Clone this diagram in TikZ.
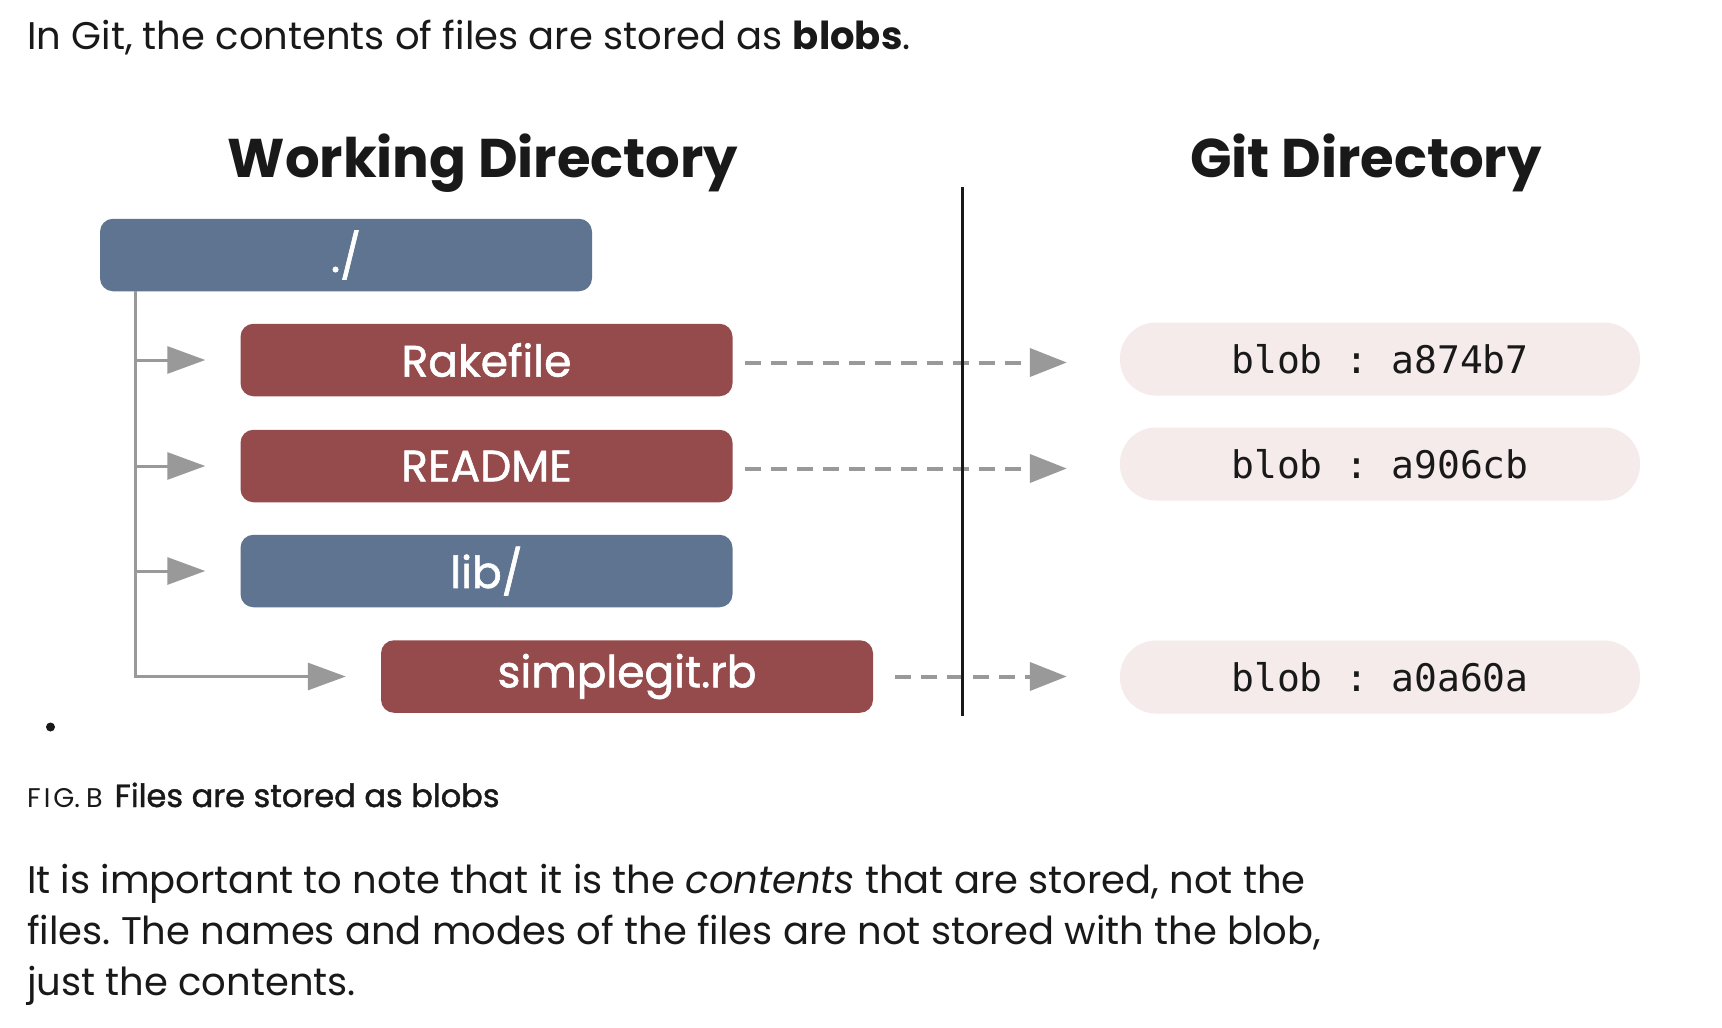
\documentclass[tikz,border=0pt]{standalone}
\usepackage{fontspec}
\setmainfont{Poppins}
\newfontfamily\medfont[FakeBold=1.3]{Poppins}
\newfontfamily\monofont{DejaVu Sans Mono}
\usetikzlibrary{arrows.meta}
\frenchspacing
\definecolor{dirblue}{RGB}{94,116,144}
\definecolor{filered}{RGB}{149,75,75}
\definecolor{blobfill}{RGB}{245,235,235}
\definecolor{treegray}{RGB}{153,153,153}
\definecolor{ink}{RGB}{25,25,25}
\tikzset{
  box/.style={rectangle, rounded corners=13pt, minimum width=492pt, minimum height=72.5pt, inner sep=0pt, text=white, font=\medfont\fontsize{44}{52}\selectfont},
  dirbox/.style={box, fill=dirblue},
  filebox/.style={box, fill=filered},
  blobbox/.style={rectangle, rounded corners=36pt, minimum width=520pt, minimum height=73pt, inner sep=0pt, fill=blobfill, text=ink, font=\monofont\fontsize{38}{46}\selectfont},
  treeline/.style={draw=treegray, line width=3pt, -{Triangle[length=38pt,width=27pt]}, treegray},
  dasharrow/.style={draw=treegray, line width=4pt, dash pattern=on 16pt off 10pt, -{Triangle[length=37pt,width=28pt]}, treegray},
  sepline/.style={draw=ink, line width=3pt},
  heading/.style={anchor=base, text=ink, font=\bfseries\fontsize{54.5}{64}\selectfont},
  bodytext/.style={anchor=base west, inner sep=0pt, text=ink, font=\fontsize{38.5}{51}\selectfont},
}
\begin{document}
\begin{tikzpicture}[x=1pt,y=-1pt]
\path[use as bounding box, fill=white] (0,0) rectangle (1722,1028);

\node[bodytext] (intro) at (27,49) {In Git, the contents of files are stored as \textbf{blobs}.};

\node[heading] (wd) at (483,177) {Working Directory};
\node[heading] (gd) at (1366,177) {Git Directory};

\node[dirbox] (root) at (346,255) {./};
\node[filebox] (rake) at (486.5,360) {Rakefile};
\node[filebox] (readme) at (486.5,466) {README};
\node[dirbox] (lib) at (486.5,571) {lib/};
\node[filebox] (simple) at (627,676.5) {simplegit.rb};

\node[blobbox] (b1) at (1380,359) {blob : a874b7};
\node[blobbox] (b2) at (1380,464) {blob : a906cb};
\node[blobbox] (b3) at (1380,677) {blob : a0a60a};

\coordinate (trunk) at ([xshift=36pt]root.south west);
\draw[treeline] (trunk) |- ([xshift=-35pt]rake.west);
\draw[treeline] (trunk) |- ([xshift=-35pt]readme.west);
\draw[treeline] (trunk) |- ([xshift=-35pt]lib.west);
\draw[treeline] (trunk) |- ([xshift=-35pt]simple.west);

\draw[dasharrow] ([xshift=12pt,yshift=-2.5pt]rake.east) -- ([xshift=-53pt,yshift=-2.5pt]rake.east -| b1.west);
\draw[dasharrow] ([xshift=12pt,yshift=-2.5pt]readme.east) -- ([xshift=-53pt,yshift=-2.5pt]readme.east -| b2.west);
\draw[dasharrow] ([xshift=22pt]simple.east) -- ([xshift=-53pt]simple.east -| b3.west);

\coordinate (septop) at (962,187);
\coordinate (sepbot) at (962,716);
\draw[sepline] (septop) -- (sepbot);

\fill[ink] (50.5,727) circle (4.5pt);

\node[bodytext] (cap) at (27,807) {{\fontsize{27}{32}\selectfont F\kern3pt I\kern3pt G.\kern6pt B}\kern12pt{\medfont\fontsize{32}{38}\selectfont Files are stored as blobs}};

\node[bodytext] (p1) at (27,893) {It is important to note that it is the \textit{contents} that are stored, not the};
\node[bodytext] (p2) at (27,944) {files. The names and modes of the files are not stored with the blob,};
\node[bodytext] (p3) at (27,995) {just the contents.};
\end{tikzpicture}
\end{document}
